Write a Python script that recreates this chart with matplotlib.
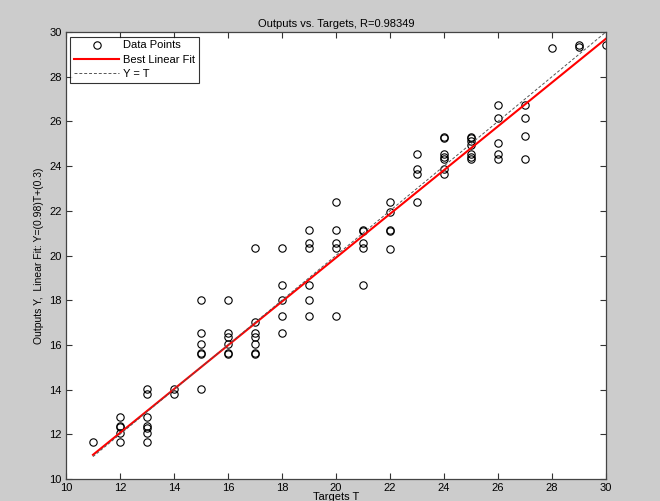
import matplotlib
matplotlib.use("Agg")
import matplotlib.pyplot as plt
import numpy as np

# values, grouped by target
targets = [11,
           12, 12, 12, 12, 12,
           13, 13, 13, 13, 13, 13, 13,
           14, 14,
           15, 15, 15, 15, 15, 15,
           16, 16, 16, 16, 16, 16,
           17, 17, 17, 17, 17, 17, 17,
           18, 18, 18, 18, 18,
           19, 19, 19, 19, 19, 19,
           20, 20, 20, 20, 20,
           21, 21, 21, 21, 21,
           22, 22, 22, 22, 22,
           23, 23, 23, 23,
           24, 24, 24, 24, 24, 24, 24,
           25, 25, 25, 25, 25, 25, 25,
           26, 26, 26, 26, 26,
           27, 27, 27, 27,
           28,
           29, 29,
           30]
outputs = [11.66,
           12.77, 12.38, 12.33, 12.07, 11.66,
           14.01, 13.80, 12.77, 12.38, 12.30, 12.07, 11.66,
           14.01, 13.80,
           18.00, 16.52, 16.04, 15.62, 15.60, 14.01,
           18.00, 16.52, 16.35, 16.04, 15.62, 15.60,
           20.32, 17.04, 16.52, 16.35, 16.04, 15.62, 15.60,
           20.32, 18.66, 18.00, 17.31, 16.52,
           21.13, 20.54, 20.32, 18.66, 18.00, 17.31,
           22.38, 21.13, 20.54, 20.32, 17.31,
           21.13, 21.08, 20.54, 20.32, 18.66,
           22.38, 21.93, 21.13, 21.08, 20.28,
           24.54, 23.88, 23.65, 22.38,
           25.32, 25.28, 24.54, 24.42, 24.30, 23.88, 23.65,
           25.32, 25.28, 25.12, 24.94, 24.54, 24.42, 24.30,
           26.72, 26.17, 25.05, 24.54, 24.33,
           26.72, 26.17, 25.35, 24.33,
           29.27,
           29.42, 29.32,
           29.43]
fit_slope = 0.98
fit_intercept = 0.3
r_value = 0.98349

plt.rcParams['font.family'] = ['Liberation Sans', 'DejaVu Sans']

fig = plt.figure(figsize=(6.6, 5.01), dpi=100, facecolor='#cccccc')
ax = fig.add_axes([0.1, 0.044, 0.818, 0.892])

t_line = np.array([min(targets), max(targets)])
ax.plot(targets, outputs, 'o', mfc='none', mec='black', ms=5.3, mew=0.8,
        label='Data Points')
ax.plot(t_line, fit_slope * t_line + fit_intercept, color='red', lw=1.5,
        label='Best Linear Fit')
ax.plot(t_line, t_line, ls='--', color='#555555', lw=0.7, dashes=(3, 2),
        label='Y = T')

ax.set_xlim(10, 30)
ax.set_ylim(10, 30)
ax.set_xticks(range(10, 31, 2))
ax.set_yticks(range(10, 31, 2))
ax.tick_params(direction='in', top=True, right=True, length=4, width=0.8,
               labelsize=8, pad=3, colors='#333333', labelcolor='black')
for s in ax.spines.values():
    s.set_color('#444444')
    s.set_linewidth(0.9)

ax.set_title(f'Outputs vs. Targets, R={r_value}', fontsize=8, pad=4)
ax.set_xlabel('Targets T', fontsize=8, labelpad=-1)
ax.set_ylabel(f'Outputs Y,  Linear Fit: Y=({fit_slope})T+({fit_intercept})',
              fontsize=7.5, labelpad=4)

leg = ax.legend(loc='upper left', fontsize=8, frameon=True, fancybox=False,
                borderpad=0.35, labelspacing=0.4, handlelength=4,
                handletextpad=0.4, borderaxespad=0.4)
leg.get_frame().set_edgecolor('black')
leg.get_frame().set_linewidth(0.8)

fig.savefig('out.png', dpi=100, facecolor=fig.get_facecolor())
